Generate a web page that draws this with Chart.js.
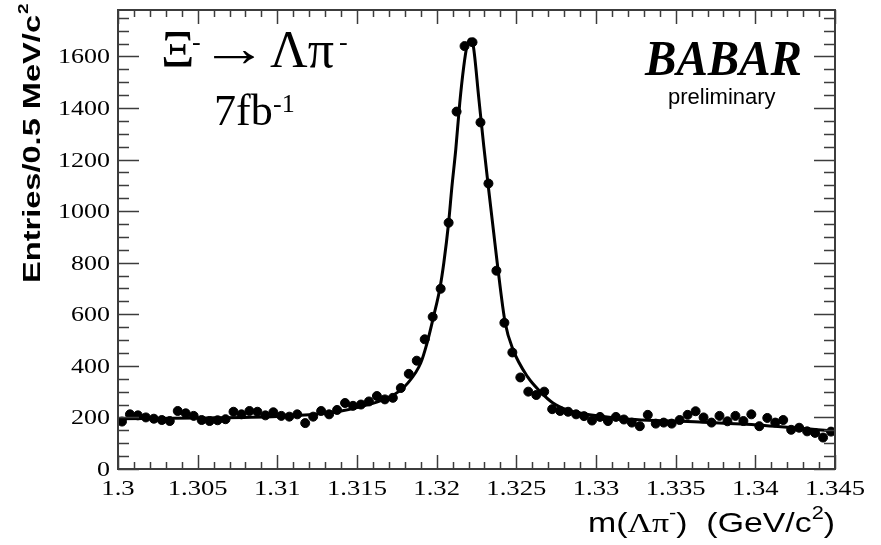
<!DOCTYPE html>
<html>
<head>
<meta charset="utf-8">
<script src="https://cdn.jsdelivr.net/npm/chart.js@4.4.0/dist/chart.umd.min.js"></script>
<style>
  body { margin: 0; background: #fff; }
  #wrap { width: 881px; height: 545px; }
</style>
</head>
<body>
<div id="wrap"><canvas id="xi-chart" width="881" height="545"></canvas></div>
<script>
// m(Lambda pi-) histogram, 0.5 MeV bins from 1.300 to 1.345 GeV
const massMin = 1.3;
const binWidth = 0.0005;
const binCounts = [
    184, 212, 208, 200, 195, 190, 186, 225, 216, 206,
    190, 186, 189, 193, 222, 212, 225, 222, 208, 220,
    206, 203, 212, 178, 203, 225, 212, 229, 256, 245,
    250, 262, 283, 270, 276, 314, 369, 420, 503, 590,
    699, 955, 1386, 1640, 1655, 1344, 1107, 769, 567, 452,
    355, 300, 287, 300, 232, 225, 222, 212, 205, 188,
    202, 186, 202, 192, 180, 166, 210, 176, 180, 176,
    190, 210, 224, 200, 180, 206, 185, 206, 186, 212,
    166, 198, 180, 190, 152, 160, 146, 140, 122, 145
];
const binCenters = binCounts.map((c, i) => massMin + (i + 0.5) * binWidth);

// fit curve
const fitMass = [1.300, 1.305, 1.310, 1.3125, 1.314, 1.3152, 1.3165, 1.3173, 1.3182, 1.3190,
    1.3194, 1.3198, 1.3202, 1.32045, 1.32075, 1.32095, 1.3212, 1.32145, 1.3217, 1.3219,
    1.3221, 1.3223, 1.32264, 1.32296, 1.32327, 1.32358, 1.3238, 1.3243, 1.3248, 1.3257,
    1.3265, 1.3273, 1.3282, 1.3290, 1.3315, 1.3365, 1.3403, 1.345];
const fitValues = [195, 198, 204, 213, 225, 241, 265, 287, 334, 411,
    489, 590, 700, 800, 955, 1090, 1240, 1420, 1561, 1640,
    1668, 1640, 1440, 1250, 1080, 916, 800, 567, 462, 358,
    300, 256, 229, 217, 196, 182, 170, 147];

const xTickValues = [1.3, 1.305, 1.31, 1.315, 1.32, 1.325, 1.33, 1.335, 1.34, 1.345];
const xTickLabels = ['1.3', '1.305', '1.31', '1.315', '1.32', '1.325', '1.33', '1.335', '1.34', '1.345'];
const yTickValues = [0, 200, 400, 600, 800, 1000, 1200, 1400, 1600];

const serif = '"Liberation Serif", "Times New Roman", serif';
const sans = '"Liberation Sans", Arial, sans-serif';

// text stretched horizontally like the scanned original
function wideText(ctx, text, x, y, sx, align) {
    const w = ctx.measureText(text).width * sx;
    const left = align === 'right' ? x - w : align === 'center' ? x - w / 2 : x;
    ctx.save();
    ctx.translate(left, y);
    ctx.scale(sx, 1);
    ctx.textAlign = 'left';
    ctx.fillText(text, 0, 0);
    ctx.restore();
    return w;
}

// draws frame, inward ticks on all sides, tick labels and the text
const decor = {
    id: 'decor',
    afterDraw(chart) {
        const {ctx, chartArea: a, scales: {x, y}} = chart;
        ctx.save();
        ctx.strokeStyle = '#3c3c3c';
        ctx.lineWidth = 1.5;
        ctx.beginPath();
        for (let k = 0; k <= 45; k++) {
            const px = Math.round(x.getPixelForValue(1.3 + k * 0.001)) + 0.5;
            const len = k % 5 === 0 ? 14 : 7;
            ctx.moveTo(px, a.bottom); ctx.lineTo(px, a.bottom - len);
            ctx.moveTo(px, a.top); ctx.lineTo(px, a.top + len);
        }
        for (let v = 0; v <= 1750; v += 50) {
            const py = Math.round(y.getPixelForValue(v)) + 0.5;
            const len = v % 200 === 0 ? 21 : 11;
            ctx.moveTo(a.left, py); ctx.lineTo(a.left + len, py);
            ctx.moveTo(a.right, py); ctx.lineTo(a.right - len, py);
        }
        ctx.stroke();
        ctx.lineWidth = 2;
        ctx.strokeRect(a.left, a.top, a.right - a.left, a.bottom - a.top);

        ctx.fillStyle = '#000';
        ctx.textBaseline = 'alphabetic';

        // tick labels
        ctx.font = '21px ' + serif;
        xTickValues.forEach((v, i) => {
            wideText(ctx, xTickLabels[i], x.getPixelForValue(v), 495, 1.27, 'center');
        });
        ctx.font = '20px ' + serif;
        yTickValues.forEach(v => {
            wideText(ctx, String(v), 110, y.getPixelForValue(v) + 7, 1.3, 'right');
        });

        // y title, rotated, aligned to the top
        ctx.save();
        ctx.translate(40, 283);
        ctx.rotate(-Math.PI / 2);
        ctx.font = 'bold 24px ' + sans;
        const yt = 'Entries/0.5 MeV/c';
        const ys = 268 / ctx.measureText(yt).width;
        const yw = wideText(ctx, yt, 0, 0, ys, 'left');
        ctx.font = 'bold 14px ' + sans;
        wideText(ctx, '2', yw + 1, -12, ys, 'left');
        ctx.restore();

        // x title, right aligned at the frame edge
        const parts = [
            ['m(', '28px ' + sans, 0],
            ['Λπ', '28px ' + serif, 0],
            ['-', '18px ' + sans, -13],
            [')  (GeV/c', '28px ' + sans, 0],
            ['2', '18px ' + sans, -13],
            [')', '28px ' + sans, 0]
        ];
        let total = 0;
        parts.forEach(p => { ctx.font = p[1]; total += ctx.measureText(p[0]).width; });
        const xs = 247 / total;
        let xp = 835 - total * xs;
        parts.forEach(p => {
            ctx.font = p[1];
            xp += wideText(ctx, p[0], xp, 532 + p[2], xs, 'left');
        });

        // decay label
        ctx.font = '52px ' + serif;
        ctx.fillText('Ξ', 161, 67);
        ctx.font = '26px ' + serif;
        ctx.fillText('-', 192, 50);
        ctx.font = '52px ' + serif;
        wideText(ctx, '→', 200, 66, 1.3, 'left');
        ctx.fillText('Λπ', 270, 67);
        ctx.font = '26px ' + serif;
        ctx.fillText('-', 339, 50);
        ctx.font = '44px ' + serif;
        ctx.fillText('7fb', 214, 125);
        ctx.font = '26px ' + serif;
        ctx.fillText('-1', 273, 112);

        // experiment logo
        ctx.font = 'italic bold 50px ' + serif;
        ctx.fillText('BABAR', 645, 75, 157);
        ctx.font = '22px ' + sans;
        ctx.fillText('preliminary', 668, 104, 122);
        ctx.restore();
    }
};

new Chart(document.getElementById('xi-chart').getContext('2d'), {
    type: 'scatter',
    data: {
        datasets: [{
            label: 'fit',
            type: 'line',
            data: fitMass.map((m, i) => ({x: m, y: fitValues[i]})),
            borderColor: '#000',
            borderWidth: 3,
            pointRadius: 0,
            cubicInterpolationMode: 'monotone',
            fill: false
        }, {
            label: 'data',
            data: binCenters.map((m, i) => ({x: m, y: binCounts[i]})),
            backgroundColor: '#000',
            borderColor: '#000',
            pointRadius: 4.5,
            pointHoverRadius: 4.5
        }]
    },
    options: {
        responsive: false,
        animation: false,
        events: [],
        layout: {padding: {top: 10, right: 46, left: 0, bottom: 0}},
        plugins: {legend: {display: false}, tooltip: {enabled: false}},
        scales: {
            x: {
                type: 'linear',
                min: 1.3,
                max: 1.345,
                afterBuildTicks: s => { s.ticks = xTickValues.map(v => ({value: v})); },
                afterFit: s => { s.height = 76; },
                grid: {display: false, drawTicks: false},
                border: {display: false},
                ticks: {display: false}
            },
            y: {
                min: 0,
                max: 1780,
                afterBuildTicks: s => { s.ticks = yTickValues.map(v => ({value: v})); },
                afterFit: s => { s.width = 118; },
                grid: {display: false, drawTicks: false},
                border: {display: false},
                ticks: {display: false}
            }
        }
    },
    plugins: [decor]
});
</script>
</body>
</html>
